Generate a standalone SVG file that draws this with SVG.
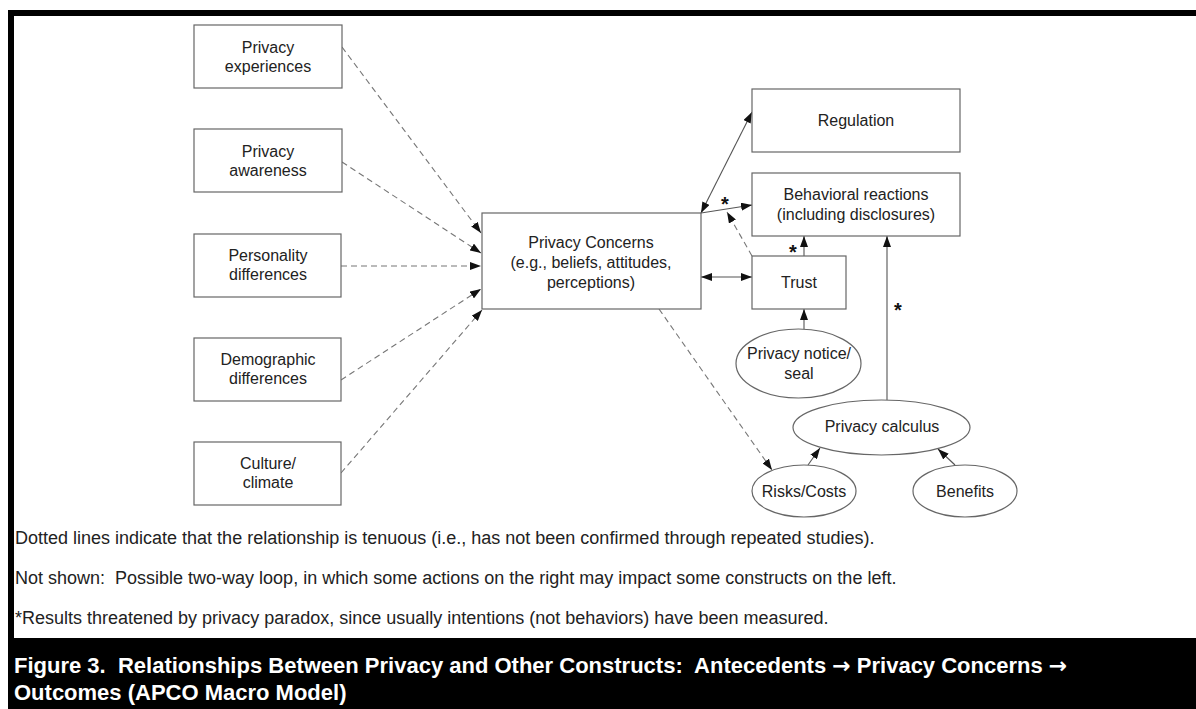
<svg xmlns="http://www.w3.org/2000/svg" width="1196" height="709" viewBox="0 0 1196 709">
<defs>
<style>
.box{fill:#fff;stroke:#666;stroke-width:1.2}
.lbl{font-family:"Liberation Sans",Arial,sans-serif;font-size:16px;fill:#222;text-anchor:middle}
.note{font-family:"Liberation Sans",Arial,sans-serif;font-size:18px;fill:#222}
.cap{font-family:"Liberation Sans",Arial,sans-serif;font-size:22px;font-weight:bold;fill:#fff}
.arr{font-family:"DejaVu Sans",sans-serif}
.dash{fill:none;stroke:#777;stroke-width:1.1;stroke-dasharray:6 4}
.solid{fill:none;stroke:#555;stroke-width:1.1}
.star{font-family:"Liberation Sans",Arial,sans-serif;font-size:20px;font-weight:bold;fill:#111;text-anchor:middle}
</style>
<marker id="ah" markerUnits="userSpaceOnUse" markerWidth="11" markerHeight="8" refX="11" refY="4" orient="auto-start-reverse">
<path d="M0,0 L11,4 L0,8 z" fill="#111"/>
</marker>
</defs>
<rect x="0" y="0" width="1196" height="709" fill="#fff"/>
<g id="frame">
<rect x="8" y="10" width="1188" height="6" fill="#000"/>
<rect x="8" y="10" width="6" height="630" fill="#000"/>
<rect x="8" y="638" width="1188" height="71" fill="#000"/>
</g>
<g id="connectors">
<line class="dash" x1="342" y1="47" x2="481" y2="233" marker-end="url(#ah)"/>
<line class="dash" x1="342" y1="162" x2="481" y2="253" marker-end="url(#ah)"/>
<line class="dash" x1="341" y1="266" x2="481" y2="266" marker-end="url(#ah)"/>
<line class="dash" x1="341" y1="380" x2="481" y2="289" marker-end="url(#ah)"/>
<line class="dash" x1="341" y1="473" x2="482" y2="310" marker-end="url(#ah)"/>
<line class="solid" x1="701" y1="213" x2="752" y2="112" marker-start="url(#ah)" marker-end="url(#ah)"/>
<line class="solid" x1="701" y1="213" x2="752" y2="205" marker-end="url(#ah)"/>
<line class="dash" x1="752" y1="256" x2="727" y2="212" marker-end="url(#ah)"/>
<line class="solid" x1="701" y1="277" x2="752" y2="277" marker-start="url(#ah)" marker-end="url(#ah)"/>
<line class="solid" x1="804" y1="256" x2="804" y2="236" marker-end="url(#ah)"/>
<line class="solid" x1="804" y1="329" x2="804" y2="309" marker-end="url(#ah)"/>
<line class="solid" x1="887" y1="400" x2="887" y2="236" marker-end="url(#ah)"/>
<line class="solid" x1="808" y1="465" x2="820" y2="448" marker-end="url(#ah)"/>
<line class="solid" x1="955" y1="465" x2="938" y2="449" marker-end="url(#ah)"/>
<line class="dash" x1="659" y1="309" x2="772" y2="470" marker-end="url(#ah)"/>
<text class="star" x="725" y="211">*</text>
<text class="star" x="793" y="259">*</text>
<text class="star" x="898" y="317">*</text>
</g>
<g id="n-experiences">
<rect class="box" x="194" y="25" width="148" height="63"/>
<text class="lbl" x="268" y="53">Privacy</text>
<text class="lbl" x="268" y="72">experiences</text>
</g>
<g id="n-awareness">
<rect class="box" x="194" y="129" width="148" height="63"/>
<text class="lbl" x="268" y="157">Privacy</text>
<text class="lbl" x="268" y="176">awareness</text>
</g>
<g id="n-personality">
<rect class="box" x="194" y="234" width="147" height="63"/>
<text class="lbl" x="268" y="261">Personality</text>
<text class="lbl" x="268" y="280">differences</text>
</g>
<g id="n-demographic">
<rect class="box" x="194" y="338" width="147" height="63"/>
<text class="lbl" x="268" y="365">Demographic</text>
<text class="lbl" x="268" y="384">differences</text>
</g>
<g id="n-culture">
<rect class="box" x="194" y="442" width="147" height="63"/>
<text class="lbl" x="268" y="469">Culture/</text>
<text class="lbl" x="268" y="488">climate</text>
</g>
<g id="n-concerns">
<rect class="box" x="482" y="213" width="219" height="96"/>
<text class="lbl" x="591" y="248">Privacy Concerns</text>
<text class="lbl" x="591" y="268">(e.g., beliefs, attitudes,</text>
<text class="lbl" x="591" y="288">perceptions)</text>
</g>
<g id="n-regulation">
<rect class="box" x="752" y="89" width="208" height="63"/>
<text class="lbl" x="856" y="126">Regulation</text>
</g>
<g id="n-behavioral">
<rect class="box" x="752" y="173" width="208" height="63"/>
<text class="lbl" x="856" y="200">Behavioral reactions</text>
<text class="lbl" x="856" y="220">(including disclosures)</text>
</g>
<g id="n-trust">
<rect class="box" x="752" y="256" width="94" height="53"/>
<text class="lbl" x="799" y="288">Trust</text>
</g>
<g id="n-notice">
<ellipse class="box" cx="798.5" cy="363.5" rx="62.5" ry="34.5"/>
<text class="lbl" x="799" y="359">Privacy notice/</text>
<text class="lbl" x="799" y="379">seal</text>
</g>
<g id="n-calculus">
<ellipse class="box" cx="881.5" cy="427.5" rx="88.5" ry="27.5"/>
<text class="lbl" x="882" y="432">Privacy calculus</text>
</g>
<g id="n-risks">
<ellipse class="box" cx="804" cy="491" rx="52" ry="26"/>
<text class="lbl" x="804" y="497">Risks/Costs</text>
</g>
<g id="n-benefits">
<ellipse class="box" cx="965" cy="491" rx="52" ry="26"/>
<text class="lbl" x="965" y="497">Benefits</text>
</g>
<g id="notes">
<text class="note" x="15" y="544">Dotted lines indicate that the relationship is tenuous (i.e., has not been confirmed through repeated studies).</text>
<text class="note" x="15" y="584" xml:space="preserve">Not shown:  Possible two-way loop, in which some actions on the right may impact some constructs on the left.</text>
<text class="note" x="15" y="624">*Results threatened by privacy paradox, since usually intentions (not behaviors) have been measured.</text>
</g>
<g id="caption">
<text class="cap" x="14" y="673" xml:space="preserve">Figure 3.  Relationships Between Privacy and Other Constructs:  Antecedents <tspan class="arr">→</tspan> Privacy Concerns <tspan class="arr">→</tspan></text>
<text class="cap" x="14" y="700">Outcomes (APCO Macro Model)</text>
</g>
</svg>
